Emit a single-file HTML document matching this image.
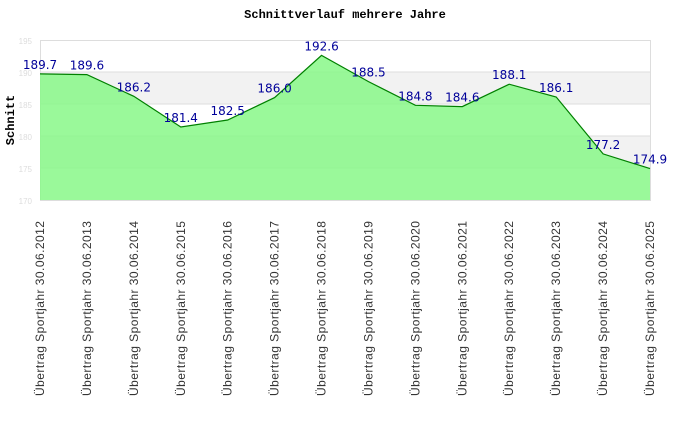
<!DOCTYPE html>
<html><head><meta charset="utf-8"><style>body{margin:0;background:#fff}</style></head><body>
<svg width="690" height="420" xmlns="http://www.w3.org/2000/svg" font-family="Liberation Sans, DejaVu Sans, sans-serif">
<rect width="690" height="420" fill="#fff"/>
<text x="345" y="18" text-anchor="middle" font-family="Liberation Mono, monospace" font-weight="bold" font-size="12">Schnittverlauf mehrere Jahre</text>
<text transform="translate(14,120) rotate(-90)" text-anchor="middle" font-family="Liberation Mono, monospace" font-weight="bold" font-size="12">Schnitt</text>
<rect x="40" y="72" width="610" height="32" fill="#f2f2f2"/>
<rect x="40" y="136" width="610" height="32" fill="#f2f2f2"/>
<g stroke="#ddd" stroke-width="1">
<line x1="40" y1="72" x2="650" y2="72"/><line x1="40" y1="104" x2="650" y2="104"/><line x1="40" y1="136" x2="650" y2="136"/><line x1="40" y1="168" x2="650" y2="168"/>
</g>
<rect x="40.5" y="40.5" width="610" height="160" fill="none" stroke="#ddd"/>
<g font-size="8" fill="#ddd" text-anchor="end">
<text x="32" y="44">195</text><text x="32" y="76">190</text><text x="32" y="108">185</text><text x="32" y="140">180</text><text x="32" y="172">175</text><text x="32" y="204">170</text>
</g>
<g id="c"></g>
<script>
var v=[189.7,189.6,186.2,181.4,182.5,186.0,192.6,188.5,184.8,184.6,188.1,186.1,177.2,174.9];
var ns="http://www.w3.org/2000/svg",g=document.getElementById('c');
var pts=v.map(function(d,i){return [40+i*610/13,200-(d-170)*6.4];});
var s=pts.map(function(p){return p[0].toFixed(1)+','+p[1].toFixed(1)}).join(' ');
var a=document.createElementNS(ns,'polygon');a.setAttribute('points','40,200 '+s+' 650,200');a.setAttribute('fill','#88f888');a.setAttribute('fill-opacity','0.85');g.appendChild(a);
var l=document.createElementNS(ns,'polyline');l.setAttribute('points',s);l.setAttribute('fill','none');l.setAttribute('stroke','#008000');l.setAttribute('stroke-width','1.2');g.appendChild(l);
pts.forEach(function(p,i){
var t=document.createElementNS(ns,'text');t.setAttribute('x',p[0]);t.setAttribute('y',p[1]-5);t.setAttribute('text-anchor','middle');t.setAttribute('font-size','12');t.setAttribute('fill','#000099');t.setAttribute('font-family','DejaVu Sans, sans-serif');t.textContent=v[i].toFixed(1);g.appendChild(t);
var y=2012+i;var x=document.createElementNS(ns,'text');x.setAttribute('transform','translate('+(p[0]+4)+',221) rotate(-90)');x.setAttribute('text-anchor','end');x.setAttribute('font-size','12');x.setAttribute('fill','#333');x.setAttribute('textLength','175');x.textContent='Übertrag Sportjahr 30.06.'+y;g.appendChild(x);
});
</script>
</svg>
</body></html>
